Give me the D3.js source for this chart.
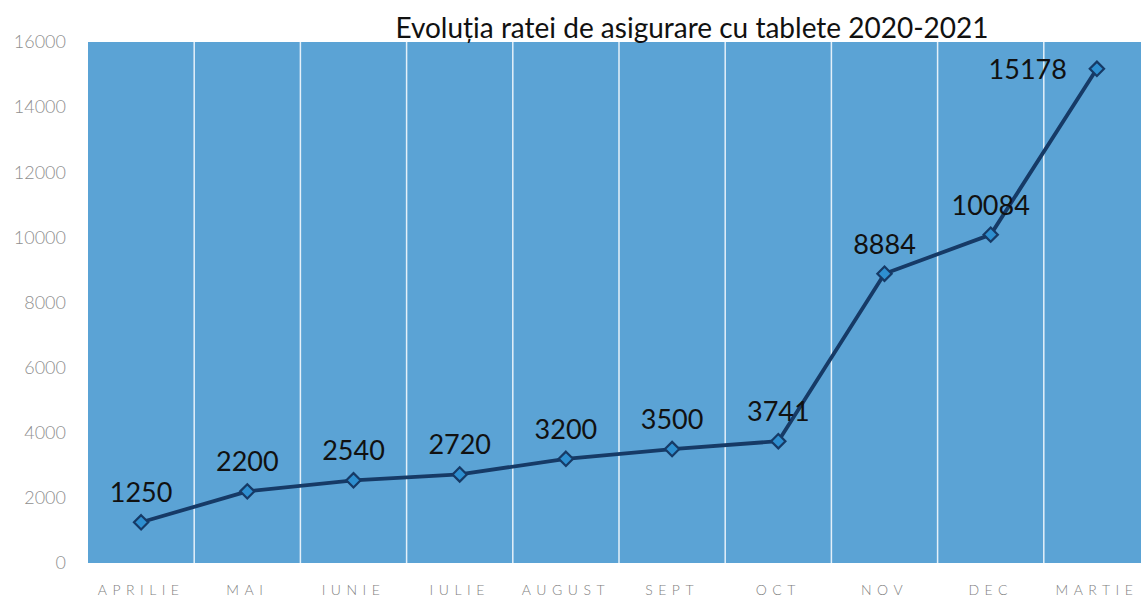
<!DOCTYPE html>
<html><head><meta charset="utf-8">
<script src="https://cdn.jsdelivr.net/npm/d3@7/dist/d3.min.js"></script>
<style>body{margin:0;background:#fff;} svg{display:block;}</style>
</head><body><svg id="c" width="1141" height="602"></svg>
<script>
const title = "Evoluția ratei de asigurare cu tablete 2020-2021";
const categories = ["APRILIE","MAI","IUNIE","IULIE","AUGUST","SEPT","OCT","NOV","DEC","MARTIE"];
const values = [1250,2200,2540,2720,3200,3500,3741,8884,10084,15178];
const yTicks = [0,2000,4000,6000,8000,10000,12000,14000,16000];

const svg = d3.select("#c");
const m = {left: 88, right: 1150, top: 42, bottom: 563};
const x = d3.scaleBand().domain(categories).range([m.left, m.right]).padding(0);
const y = d3.scaleLinear().domain([0,16000]).range([m.bottom, m.top]);

svg.append("rect").attr("x", m.left).attr("y", m.top)
  .attr("width", m.right - m.left).attr("height", m.bottom - m.top)
  .attr("fill", "#5ba3d5");

svg.append("g").selectAll("line").data(categories.slice(1)).join("line")
  .attr("x1", d => x(d)).attr("x2", d => x(d))
  .attr("y1", m.top).attr("y2", m.bottom)
  .attr("stroke", "#e4f0f9").attr("stroke-width", 1.5);

const ya = svg.append("g").attr("transform", `translate(${m.left - 22},0)`)
  .call(d3.axisLeft(y).tickValues(yTicks).tickSize(0).tickPadding(0).tickFormat(d3.format("d")));
ya.select(".domain").remove();
ya.selectAll("text").attr("fill", "#8f8f8f").attr("font-family", "Lato, 'Open Sans', sans-serif")
  .attr("font-size", 18).attr("font-weight", 300);

const xa = svg.append("g").attr("transform", `translate(0,${m.bottom + 19})`)
  .call(d3.axisBottom(x).tickSize(0).tickPadding(0));
xa.select(".domain").remove();
xa.selectAll("text").attr("fill", "#808080").attr("font-family", "Lato, 'Open Sans', sans-serif")
  .attr("font-size", 14).attr("letter-spacing", "5.5px").attr("font-weight", 300)
  .attr("dy", "0.9em");

const line = d3.line().x((d,i) => x(categories[i]) + x.bandwidth()/2).y(d => y(d));
svg.append("path").datum(values).attr("d", line)
  .attr("fill", "none").attr("stroke", "#163a66").attr("stroke-width", 3.8)
  .attr("stroke-linejoin", "round");

svg.append("g").selectAll("path").data(values).join("path")
  .attr("d", d3.symbol().type(d3.symbolDiamond2).size(130))
  .attr("transform", (d,i) => `translate(${x(categories[i]) + x.bandwidth()/2},${y(d)})`)
  .attr("fill", "#2e8fd0").attr("stroke", "#163a66").attr("stroke-width", 2.2);

const last = values.length - 1;
svg.append("g").selectAll("text").data(values).join("text")
  .attr("x", (d,i) => x(categories[i]) + x.bandwidth()/2 + (i === last ? -30 : 0))
  .attr("y", (d,i) => y(d) + (i === last ? 10 : -20))
  .attr("text-anchor", (d,i) => i === last ? "end" : "middle")
  .attr("font-family", "Lato, 'Open Sans', sans-serif").attr("font-size", 27)
  .attr("fill", "#111").text(d => d);

svg.append("text").attr("x", 692).attr("y", 38).attr("text-anchor", "middle")
  .attr("font-family", "Lato, 'Open Sans', sans-serif").attr("font-size", 28)
  .attr("fill", "#111").text(title);
</script></body></html>
